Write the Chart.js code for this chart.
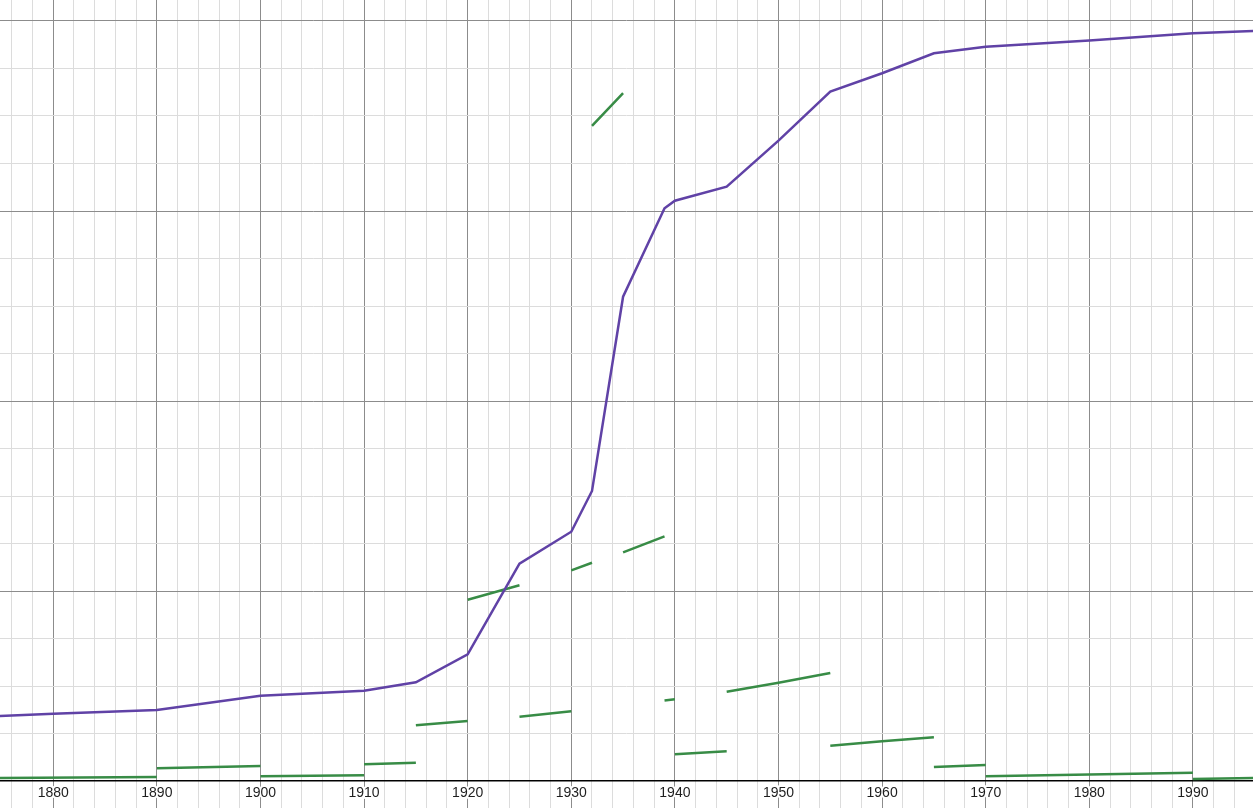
<!DOCTYPE html>
<html>
<head>
<meta charset="utf-8">
<script src="https://cdn.jsdelivr.net/npm/chart.js@4/dist/chart.umd.min.js"></script>
<style>
  html, body { margin: 0; padding: 0; background: #fff; overflow: hidden; }
  #graph { display: block; }
</style>
</head>
<body>
<canvas id="graph" width="1253" height="808"></canvas>
<script>
// ====== データ ======
// 紫の折れ線（累積の値）
const purpleYears = [1870, 1880, 1890, 1900, 1910, 1915, 1920, 1925, 1930, 1932, 1935, 1939, 1940, 1945, 1950, 1955, 1960, 1965, 1970, 1980, 1990, 1996];
const purpleValues = [6.6, 7.08, 7.47, 8.98, 9.51, 10.39, 13.34, 22.87, 26.24, 30.53, 50.98, 60.28, 61.08, 62.56, 67.4, 72.56, 74.5, 76.6, 77.3, 77.95, 78.7, 78.95];

// 緑の区間ごとの線分（区間の年と値）
const segYears = [
  [1870, 1890], [1890, 1900], [1900, 1910], [1910, 1915], [1915, 1920],
  [1920, 1925], [1925, 1930], [1930, 1932], [1932, 1935], [1935, 1939],
  [1939, 1940], [1940, 1945], [1945, 1950, 1955], [1955, 1960, 1965],
  [1965, 1970], [1970, 1990], [1990, 1996]
];
const segValues = [
  [0.3, 0.41], [1.34, 1.58], [0.49, 0.6], [1.76, 1.93], [5.86, 6.32],
  [19.08, 20.6], [6.77, 7.34], [22.18, 22.98], [68.95, 72.4], [24.07, 25.76],
  [8.47, 8.6], [2.81, 3.13], [9.4, 10.35, 11.37], [3.72, 4.18, 4.6],
  [1.47, 1.68], [0.49, 0.87], [0.21, 0.32]
];

// 軸の目盛り
const xMajorLabels = [1880, 1890, 1900, 1910, 1920, 1930, 1940, 1950, 1960, 1970, 1980, 1990];
const xGridYears = [];
for (let yr = 1876; yr <= 1994; yr += 2) xGridYears.push(yr);
const yGridValues = [];
for (let v = 0; v <= 80; v += 5) yGridValues.push(v);

// 線分を null で区切って一本のデータセットにする
const greenPoints = [];
segYears.forEach((years, i) => {
  if (i > 0) greenPoints.push({ x: years[0], y: null });
  years.forEach((yr, j) => greenPoints.push({ x: yr, y: segValues[i][j] }));
});

const purplePoints = purpleYears.map((yr, i) => ({ x: yr, y: purpleValues[i] }));

// ====== 目盛りラベル（軸の上に白縁付きで描く） ======
const axisLabels = {
  id: 'axisLabels',
  afterDraw(chart) {
    const ctx = chart.ctx;
    const xs = chart.scales.x;
    const ys = chart.scales.y;
    const py = ys.getPixelForValue(0) + 12;
    ctx.save();
    ctx.font = '14px "Liberation Sans", Arial, sans-serif';
    ctx.textAlign = 'center';
    ctx.textBaseline = 'middle';
    ctx.lineJoin = 'round';
    xMajorLabels.forEach(yr => {
      const px = xs.getPixelForValue(yr);
      ctx.strokeStyle = '#fff';
      ctx.lineWidth = 4;
      ctx.strokeText(String(yr), px, py);
      ctx.fillStyle = '#1e1e1e';
      ctx.fillText(String(yr), px, py);
    });
    ctx.restore();
  }
};

new Chart(document.getElementById('graph'), {
  type: 'line',
  data: {
    datasets: [
      {
        data: purplePoints,
        borderColor: '#6042a6',
        borderWidth: 2.5,
        pointRadius: 0,
        tension: 0
      },
      {
        data: greenPoints,
        borderColor: '#388c46',
        borderWidth: 2.5,
        pointRadius: 0,
        tension: 0,
        spanGaps: false
      }
    ]
  },
  options: {
    responsive: false,
    devicePixelRatio: 1,
    animation: false,
    layout: { padding: 0 },
    plugins: { legend: { display: false }, tooltip: { enabled: false } },
    scales: {
      x: {
        type: 'linear',
        min: 1874.86,
        max: 1995.8,
        border: { display: false },
        ticks: { display: false },
        afterBuildTicks: axis => { axis.ticks = xGridYears.map(v => ({ value: v })); },
        afterFit: axis => { axis.height = 0; },
        grid: {
          drawTicks: false,
          lineWidth: 1,
          color: c => (c.tick.value % 10 === 0 ? '#8c8c8c' : '#dcdcdc')
        }
      },
      y: {
        type: 'linear',
        min: -2.84,
        max: 82.21,
        border: { display: false },
        ticks: { display: false },
        afterBuildTicks: axis => { axis.ticks = yGridValues.map(v => ({ value: v })); },
        afterFit: axis => { axis.width = 0; },
        grid: {
          drawTicks: false,
          lineWidth: c => (c.tick.value === 0 ? 1.6 : 1),
          color: c => {
            if (c.tick.value === 0) return '#000';
            return c.tick.value % 20 === 0 ? '#8c8c8c' : '#dcdcdc';
          }
        }
      }
    }
  },
  plugins: [axisLabels]
});
</script>
</body>
</html>
